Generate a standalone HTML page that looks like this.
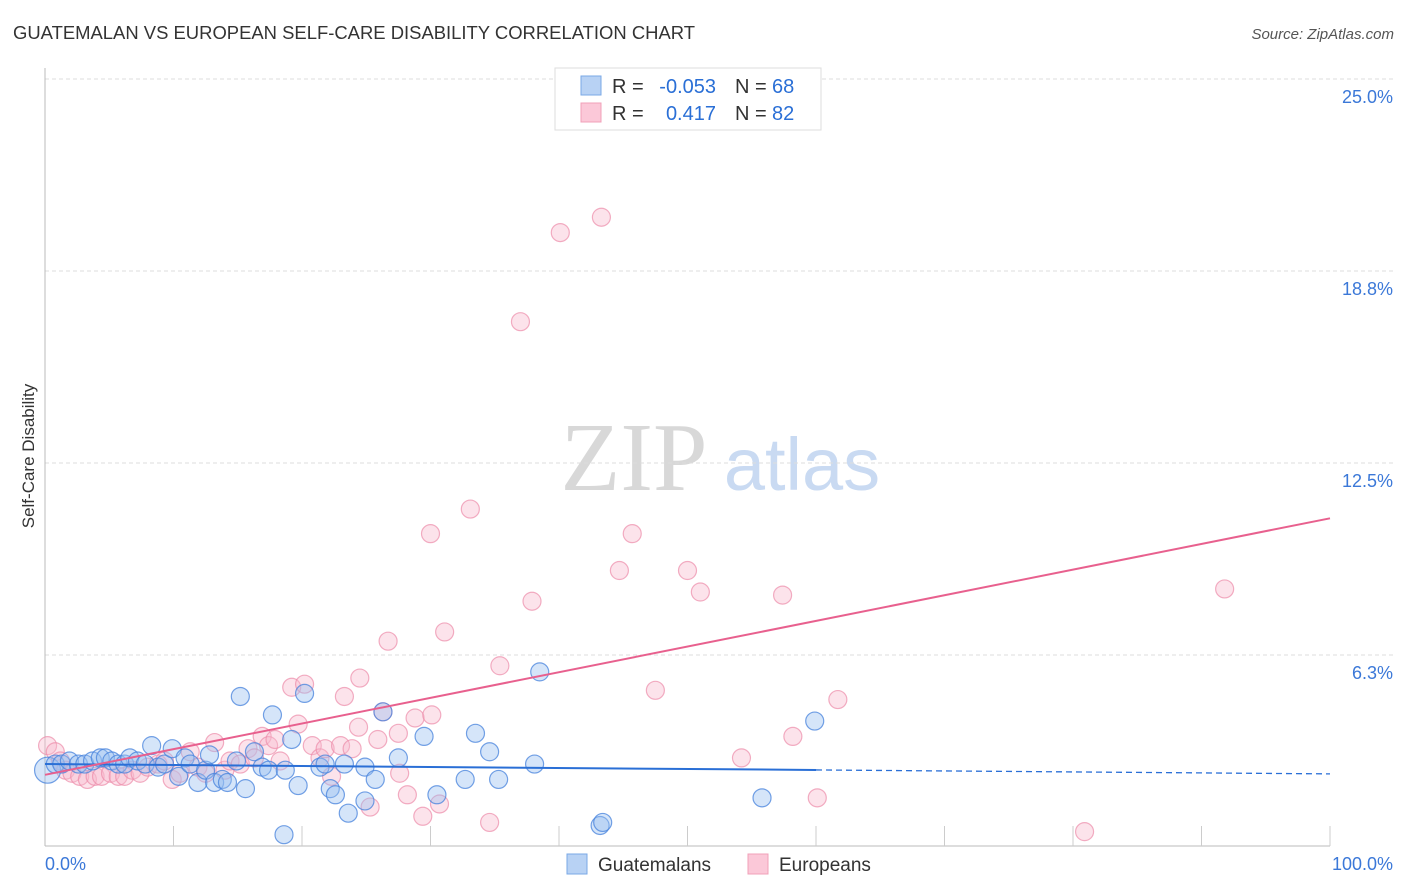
<!DOCTYPE html>
<html><head><meta charset="utf-8"><style>
body{margin:0;background:#fff;font-family:"Liberation Sans",sans-serif;}
#wrap{position:relative;width:1406px;height:892px;overflow:hidden;}
</style></head><body>
<div id="wrap">
<svg id="svg" width="1406" height="892" xmlns="http://www.w3.org/2000/svg">
<text x="13" y="39" font-size="18" fill="#333" textLength="682" lengthAdjust="spacingAndGlyphs">GUATEMALAN VS EUROPEAN SELF-CARE DISABILITY CORRELATION CHART</text>
<text x="1394" y="39" font-size="15" fill="#555" font-style="italic" text-anchor="end">Source: ZipAtlas.com</text>
<text x="634" y="490" font-size="98" fill="#d8d8d8" font-family="Liberation Serif,serif" text-anchor="middle">ZIP</text>
<text x="802" y="490" font-size="74" fill="#c9daf2" text-anchor="middle">atlas</text>
<text transform="translate(34,456) rotate(-90)" font-size="17" fill="#333" text-anchor="middle">Self-Care Disability</text>
<g id="grid"></g><g id="axes"></g><g id="pts"></g><g id="trend"></g>
<g>
<rect x="555" y="68" width="266" height="62" fill="#fff" stroke="#ddd"/>
<rect x="581" y="76" width="20" height="19" fill="#b8d2f4" stroke="#7aa8e6"/>
<rect x="581" y="103" width="20" height="19" fill="#fbc8d8" stroke="#f0a0b8"/>
<text y="93" font-size="20" fill="#333"><tspan x="612">R =</tspan><tspan x="716" fill="#2a6fd6" text-anchor="end">-0.053</tspan><tspan x="735">N =</tspan><tspan x="772" fill="#2a6fd6">68</tspan></text>
<text y="120" font-size="20" fill="#333"><tspan x="612">R =</tspan><tspan x="716" fill="#2a6fd6" text-anchor="end">0.417</tspan><tspan x="735">N =</tspan><tspan x="772" fill="#2a6fd6">82</tspan></text>
</g>
<g>
<rect x="567" y="854" width="20" height="20" fill="#b8d2f4" stroke="#7aa8e6"/>
<text x="598" y="871" font-size="19" fill="#333">Guatemalans</text>
<rect x="748" y="854" width="20" height="20" fill="#fbc8d8" stroke="#f0a0b8"/>
<text x="779" y="871" font-size="19" fill="#333">Europeans</text>
</g>
</svg>
</div>
<script>
const yTicks=[6.25,12.5,18.75,25];
const yTickLabels=["6.3%","12.5%","18.8%","25.0%"];
const blueX=[0.2,0.8,1.3,1.9,2.6,3.1,3.7,4.3,4.7,5.2,5.7,6.2,6.6,7.2,7.8,8.3,8.8,9.3,9.9,10.4,10.9,11.3,11.9,12.5,12.8,13.2,13.8,14.2,14.9,15.2,15.6,16.3,16.9,17.4,17.7,18.7,19.2,19.7,20.2,21.4,21.8,22.2,22.6,23.3,23.6,24.9,24.9,25.7,26.3,27.5,29.5,30.5,32.7,33.5,34.6,35.3,38.1,38.5,43.2,43.4,55.8,59.9,18.6];
const blueY=[2.5,2.7,2.7,2.8,2.7,2.7,2.8,2.9,2.9,2.8,2.7,2.7,2.9,2.8,2.7,3.3,2.6,2.7,3.2,2.3,2.9,2.7,2.1,2.5,3.0,2.1,2.2,2.1,2.8,4.9,1.9,3.1,2.6,2.5,4.3,2.5,3.5,2.0,5.0,2.6,2.7,1.9,1.7,2.7,1.1,2.6,1.5,2.2,4.4,2.9,3.6,1.7,2.2,3.7,3.1,2.2,2.7,5.7,0.7,0.8,1.6,4.1,0.4];
const pinkX=[0.2,0.8,1.2,1.6,2.1,2.7,3.3,3.9,4.4,5.1,5.7,6.2,6.8,7.4,8.0,8.8,9.3,9.9,10.5,11.3,11.9,12.5,13.2,14.0,14.4,15.2,15.8,16.3,16.9,17.4,17.9,18.3,19.2,19.7,20.2,20.8,21.4,21.8,22.3,23.0,23.3,23.9,24.4,24.5,25.3,25.9,26.3,26.7,27.5,27.6,28.2,28.8,29.4,30.0,30.1,30.7,31.1,33.1,34.6,35.4,37.9,40.1,43.3,37.0,44.7,45.7,47.5,50.0,51.0,54.2,57.4,58.2,60.1,61.7,80.9,91.8];
const pinkY=[3.3,3.1,2.8,2.5,2.4,2.3,2.2,2.3,2.3,2.4,2.3,2.3,2.5,2.4,2.6,2.7,2.8,2.2,2.4,3.1,2.6,2.4,3.4,2.5,2.8,2.7,3.2,2.9,3.6,3.3,3.5,2.8,5.2,4.0,5.3,3.3,2.9,3.2,2.3,3.3,4.9,3.2,3.9,5.5,1.3,3.5,4.4,6.7,3.7,2.4,1.7,4.2,1.0,10.2,4.3,1.4,7.0,11.0,0.8,5.9,8.0,20.0,20.5,17.1,9.0,10.2,5.1,9.0,8.3,2.9,8.2,3.6,1.6,4.8,0.5,8.4];
const blueTrend=[2.7,2.38];
const pinkTrend=[2.35,10.7];
const NS="http://www.w3.org/2000/svg";
const X=v=>45+v*12.85, Y=v=>847-v*30.72;
function mk(tag,attrs,parent){const e=document.createElementNS(NS,tag);for(const k in attrs)e.setAttribute(k,attrs[k]);document.getElementById(parent).appendChild(e);return e;}
yTicks.forEach((t,i)=>{
 const l=mk('line',{x1:45,x2:1395,y1:Y(t),y2:Y(t),stroke:'#ddd','stroke-dasharray':'4,3'},'grid');
 
 
 const tx=mk('text',{x:1393,y:Y(t)+24,'font-size':18,fill:'#3b78d8','text-anchor':'end'},'grid');
 tx.textContent=yTickLabels[i];
 
 
});
let a=mk('line',{x1:45,x2:45,y1:68,y2:846,stroke:'#bbb'},'axes');


a=mk('line',{x1:45,x2:1330,y1:846,y2:846,stroke:'#bbb'},'axes');


for(let i=1;i<=10;i++){const t=mk('line',{x1:X(i*10),x2:X(i*10),y1:826,y2:846,stroke:'#ccc'},'axes');
 
 }
let xl=mk('text',{x:45,y:870,'font-size':18,fill:'#3b78d8'},'axes');xl.textContent='0.0%';


xl=mk('text',{x:1393,y:870,'font-size':18,fill:'#3b78d8','text-anchor':'end'},'axes');xl.textContent='100.0%';


pinkX.forEach((x,i)=>{const c=mk('circle',{cx:X(x),cy:Y(pinkY[i]),r:9,fill:'rgba(248,185,205,0.4)',stroke:'rgba(236,140,170,0.7)','stroke-width':1.2},'pts');
 
 });
blueX.forEach((x,i)=>{const c=mk('circle',{cx:X(x),cy:Y(blueY[i]),r:(i==0?13:9),fill:'rgba(150,190,240,0.4)',stroke:'rgba(70,130,220,0.75)','stroke-width':1.2},'pts');
 
 });
const bAt=x=>blueTrend[0]+(blueTrend[1]-blueTrend[0])*x/100;
let l=mk('line',{x1:X(0),y1:Y(bAt(0)),x2:X(60),y2:Y(bAt(60)),stroke:'#2a6fd6','stroke-width':2},'trend');


l=mk('line',{x1:X(60),y1:Y(bAt(60)),x2:X(100),y2:Y(bAt(100)),stroke:'#2a6fd6','stroke-width':1.3,'stroke-dasharray':'6,4'},'trend');


l=mk('line',{x1:X(0),y1:Y(pinkTrend[0]),x2:X(100),y2:Y(pinkTrend[1]),stroke:'#e8608e','stroke-width':2},'trend');


</script>
</body></html>
